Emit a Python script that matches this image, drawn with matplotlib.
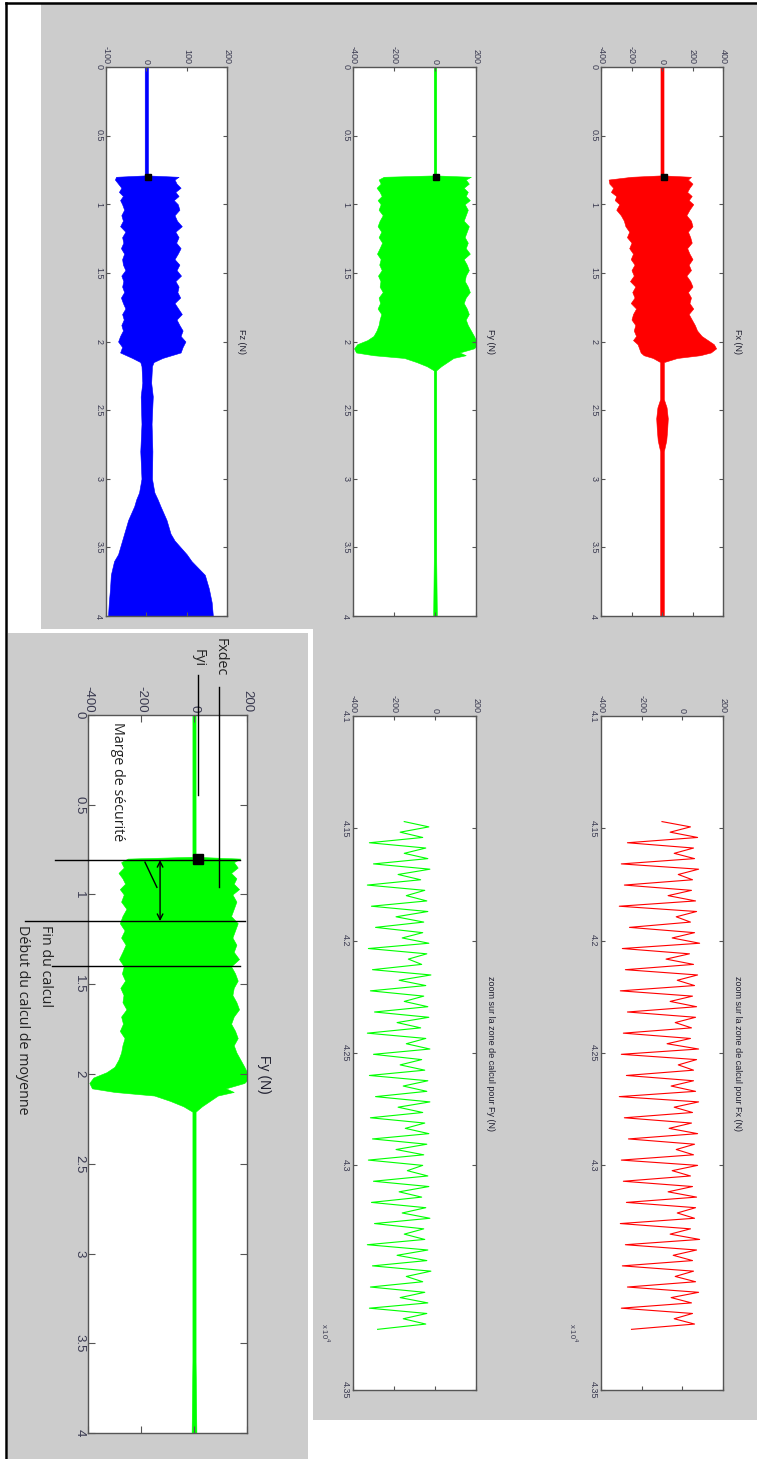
import matplotlib
matplotlib.use('Agg')
import matplotlib.pyplot as plt
import numpy as np
from matplotlib.patches import Rectangle
from matplotlib.lines import Line2D

# ---------------- data (time in units of 1e4 samples, force in N) ----------------
fx_t = [0, 0.79, 0.80, 0.82, 0.85, 0.88, 0.91, 0.94, 0.97, 1.00,
        1.04, 1.08, 1.12, 1.16, 1.20, 1.24, 1.28, 1.32, 1.36, 1.40, 1.44, 1.48,
        1.52, 1.56, 1.60, 1.64, 1.68, 1.72, 1.76, 1.80, 1.84, 1.88, 1.92, 1.96,
        1.99, 2.02, 2.05, 2.08, 2.10, 2.12, 2.15,
        2.42, 2.48, 2.56, 2.64, 2.72, 2.80, 4.0]
fx_lo = [-10, -10, -200, -350, -345, -320, -335, -300, -310, -280,
         -300, -270, -250, -240, -215, -230, -200, -215, -190, -205, -180, -200,
         -185, -210, -175, -195, -180, -205, -170, -190, -200, -175, -185, -170,
         -190, -160, -150, -140, -120, -60, -12,
         -12, -30, -38, -34, -28, -12, -12]
fx_hi = [10, 10, 190, 170, 200, 180, 165, 195, 175, 205,
         180, 160, 190, 200, 170, 185, 195, 165, 180, 200, 175, 190,
         160, 185, 200, 170, 190, 180, 205, 175, 195, 215, 230, 260,
         300, 340, 355, 320, 250, 100, 12,
         12, 30, 38, 34, 28, 12, 12]

fy_t = [0, 0.79, 0.80, 0.82, 0.85, 0.88, 0.91, 0.94, 0.97, 1.00,
        1.04, 1.08, 1.12, 1.16, 1.20, 1.24, 1.28, 1.32, 1.36, 1.40, 1.44, 1.48,
        1.52, 1.56, 1.60, 1.64, 1.68, 1.72, 1.76, 1.80, 1.84, 1.88, 1.92, 1.96,
        1.99, 2.02, 2.05, 2.08, 2.10, 2.12, 2.15, 2.18, 2.21, 3.6, 4.0]
fy_lo = [-6, -6, -250, -275, -265, -285, -270, -260, -280, -265,
         -275, -255, -270, -280, -262, -275, -258, -270, -283, -265, -272, -260,
         -278, -266, -270, -255, -275, -268, -280, -262, -270, -275, -285, -300,
         -330, -380, -395, -385, -300, -150, -90, -40, -6, -6, -9]
fy_hi = [6, 6, 175, 150, 165, 140, 160, 150, 170, 145,
         160, 150, 140, 165, 155, 145, 160, 150, 170, 140, 155, 165,
         150, 145, 160, 170, 150, 140, 155, 165, 150, 160, 175, 190,
         200, 210, 190, 120, 150, 90, 60, 30, 6, 6, 9]

fz_t = [0, 0.79, 0.80, 0.82, 0.85, 0.88, 0.91, 0.94, 0.97, 1.00,
        1.04, 1.08, 1.12, 1.16, 1.20, 1.24, 1.28, 1.32, 1.36, 1.40, 1.44, 1.48,
        1.52, 1.56, 1.60, 1.64, 1.68, 1.72, 1.76, 1.80, 1.84, 1.88, 1.92, 1.96,
        2.00, 2.04, 2.08, 2.12, 2.15, 2.18,
        2.30, 2.40, 2.60, 2.80, 3.00,
        3.10, 3.15, 3.20, 3.30, 3.40, 3.45, 3.55, 3.60, 3.70, 3.80, 3.90, 4.0]
fz_lo = [-4, -4, -75, -78, -70, -62, -68, -58, -65, -60,
         -55, -62, -58, -65, -52, -60, -57, -63, -55, -60, -58, -52,
         -62, -57, -60, -55, -63, -58, -52, -60, -56, -62, -58, -65,
         -70, -60, -65, -35, -15, -12,
         -10, -14, -12, -15, -12,
         -18, -25, -30, -45, -55, -60, -70, -80, -88, -90, -93, -95]
fz_hi = [4, 4, 80, 70, 75, 85, 72, 80, 68, 78,
         82, 70, 76, 88, 72, 80, 74, 85, 78, 70, 82, 75,
         86, 72, 80, 77, 84, 70, 79, 88, 75, 82, 90, 85,
         97, 90, 85, 40, 18, 14,
         12, 16, 13, 15, 14,
         20, 28, 35, 50, 60, 70, 100, 112, 145, 155, 162, 165]

# start-of-cutting markers (time, force)
start_t = 0.80
start_fx = 10
start_fy = 5
start_fz = 5

# zoom windows (time in 1e4 units)
zoom_t0, zoom_t1 = 4.147, 4.373
zoom_fx = [-100,
           40, -60, 75, -270, 55, -40, 60, -300, 80, -20, 50, -285,
           45, -70, 65, -310, 70, -30, 40, -260, 60, -50, 85, -295,
           35, -80, 55, -280, 75, -25, 60, -305, 50, -60, 70, -270,
           65, -35, 45, -290, 40, -75, 80, -300, 70, -20, 55, -275,
           55, -55, 65, -310, 80, -40, 50, -285, 45, -65, 75, -265,
           60, -30, 55, -300, 75, -50, 40, -290, 50, -70, 70, -275,
           65, -25, 60, -305, 40, -60, 85, -280, 70, -45, 50, -295,
           55, -35, 65, -270, 80, -55, 45, -300, 50, -40, 60, -250]
zoom_fy = [-150,
           -30, -170, -60, -320, -45, -150, -35, -300, -25, -180, -70, -330,
           -50, -140, -40, -310, -35, -190, -55, -290, -60, -160, -30, -325,
           -40, -130, -65, -305, -20, -175, -45, -315, -55, -150, -35, -295,
           -30, -185, -70, -330, -45, -140, -25, -300, -65, -170, -50, -320,
           -35, -155, -40, -290, -25, -180, -60, -315, -50, -145, -30, -305,
           -40, -190, -55, -325, -60, -135, -35, -300, -30, -175, -65, -310,
           -45, -160, -25, -295, -55, -150, -50, -330, -35, -185, -40, -305,
           -20, -140, -60, -315, -50, -170, -35, -320, -40, -155, -45, -280]

time_ticks = [0, 0.5, 1, 1.5, 2, 2.5, 3, 3.5, 4]
time_labels = ['0', '0.5', '1', '1.5', '2', '2.5', '3', '3.5', '4']
# tick labels as printed on the reference zoom axes (last label at the axis end)
zoom_ticks = [4.1, 4.15, 4.2, 4.25, 4.3, 4.4]
zoom_labels = ['4.1', '4.15', '4.2', '4.25', '4.3', '4.35']
zoom_lim = (4.1, 4.4)

# annotation times (bottom-left annotated figure)
marge_t0, marge_t1 = 0.808, 1.148
fin_t = 1.398

RED, GREEN, BLUE = '#ff0000', '#00ff00', '#0000ff'
GRAY = '#cccccc'
EDGE = '#555555'
TXT = '#3a3a50'

W, H = 757, 1459
fig = plt.figure(figsize=(W / 100, H / 100), dpi=100)
fig.patch.set_facecolor('white')


def fr(x0, y0, x1, y1):
    return [x0 / W, 1 - y1 / H, (x1 - x0) / W, (y1 - y0) / H]


for (x0, y0, x1, y1) in [(41, 4, 757, 629), (313, 629, 757, 1420), (8, 633, 308, 1459)]:
    b = fr(x0, y0, x1, y1)
    fig.add_artist(Rectangle((b[0], b[1]), b[2], b[3], transform=fig.transFigure,
                             fc=GRAY, ec='none', zorder=-5))
fig.add_artist(Line2D([6 / W, 6 / W], [0, 1 - 3 / H], transform=fig.transFigure,
                      color='black', lw=1.8, zorder=-4))
fig.add_artist(Line2D([6 / W, 1], [1 - 3 / H, 1 - 3 / H], transform=fig.transFigure,
                      color='black', lw=1.8, zorder=-4))

FONT = 'Liberation Sans'


def setup(ax, xlim, xticks, ylim, yticks, ylabels, fs, tl=3):
    ax.set_facecolor('white')
    ax.set_xlim(*xlim)
    ax.set_ylim(ylim[1], ylim[0])
    ax.set_xticks(xticks)
    ax.set_xticklabels([str(v) for v in xticks])
    ax.set_yticks(yticks)
    ax.set_yticklabels(ylabels)
    ax.xaxis.tick_top()
    ax.tick_params(axis='both', which='both', direction='in', top=True, bottom=True,
                   left=True, right=True, labeltop=True, labelbottom=False,
                   labelleft=True, labelright=False, length=tl, width=0.8,
                   color=EDGE, labelsize=fs, labelcolor=TXT, pad=2)
    ax.tick_params(axis='x', labelrotation=-90)
    ax.tick_params(axis='y', labelrotation=-90)
    for lab in ax.get_yticklabels():
        lab.set_va('center')
        lab.set_family(FONT)
    for lab in ax.get_xticklabels():
        lab.set_family(FONT)
    for s in ax.spines.values():
        s.set_color(EDGE)
        s.set_linewidth(1.0)


def title_right(ax, text, fs, off=0.08):
    ax.text(1 + off, 0.5, text, transform=ax.transAxes, rotation=-90, ha='left',
            va='center', fontsize=fs, color='#202030', family=FONT)


# ---- top panel: full signals ----
axA = fig.add_axes(fr(601, 67, 723, 616))
setup(axA, (-400, 400), [-400, -200, 0, 200, 400], (0, 4), time_ticks, time_labels, 6.5)
axA.fill_betweenx(fx_t, fx_lo, fx_hi, color=RED, lw=0.4)
axA.plot([start_fx], [start_t], 's', color='black', ms=4.5)
title_right(axA, 'Fx (N)', 6.5)

axB = fig.add_axes(fr(353, 67, 476, 616))
setup(axB, (-400, 200), [-400, -200, 0, 200], (0, 4), time_ticks, time_labels, 6.5)
axB.fill_betweenx(fy_t, fy_lo, fy_hi, color=GREEN, lw=0.4)
axB.plot([start_fy], [start_t], 's', color='black', ms=4.5)
title_right(axB, 'Fy (N)', 6.5)

axC = fig.add_axes(fr(106, 67, 227, 616))
setup(axC, (-100, 200), [-100, 0, 100, 200], (0, 4), time_ticks, time_labels, 6.5)
axC.fill_betweenx(fz_t, fz_lo, fz_hi, color=BLUE, lw=0.4)
axC.plot([start_fz], [start_t], 's', color='black', ms=4.5)
title_right(axC, 'Fz (N)', 6.5)

# ---- zoom panels ----
zt_fx = np.linspace(zoom_t0, zoom_t1, len(zoom_fx))
zt_fy = np.linspace(zoom_t0, zoom_t1, len(zoom_fy))

axD = fig.add_axes(fr(601, 716, 723, 1390))
setup(axD, (-400, 200), [-400, -200, 0, 200], zoom_lim, zoom_ticks, zoom_labels, 6.5)
axD.plot(zoom_fx, zt_fx, color=RED, lw=0.8)
title_right(axD, 'zoom sur la zone de calcul pour Fx (N)', 6.5)
axD.text(-0.23, 0.085, r'x 10$^4$', transform=axD.transAxes, rotation=-90, ha='center',
         va='center', fontsize=5.5, color=TXT, family=FONT)

axE = fig.add_axes(fr(353, 716, 476, 1390))
setup(axE, (-400, 200), [-400, -200, 0, 200], zoom_lim, zoom_ticks, zoom_labels, 6.5)
axE.plot(zoom_fy, zt_fy, color=GREEN, lw=0.8)
title_right(axE, 'zoom sur la zone de calcul pour Fy (N)', 6.5)
axE.text(-0.23, 0.085, r'x 10$^4$', transform=axE.transAxes, rotation=-90, ha='center',
         va='center', fontsize=5.5, color=TXT, family=FONT)

# ---- annotated Fy panel ----
axF = fig.add_axes(fr(88, 715, 247, 1433))
setup(axF, (-400, 200), [-400, -200, 0, 200], (0, 4), time_ticks, time_labels, 9.5, tl=5)
axF.fill_betweenx(fy_t, fy_lo, fy_hi, color=GREEN, lw=0.4)
axF.plot([15], [start_t], 's', color='black', ms=6.5, zorder=5)
axF.text(1.06, 0.5, 'Fy (N)', transform=axF.transAxes, rotation=-90, ha='left',
         va='center', fontsize=10, color='#202030', family=FONT)

ANN = 'Open Sans'
AFS = 10.3
kw = dict(color='black', lw=1.0, clip_on=False, zorder=6)
# Fxdec / Fyi pointers
axF.plot([95, 95], [-0.156, 0.958], **kw)
axF.plot([15, 15], [-0.223, 0.446], **kw)
axF.text(97, -0.43, 'Fxdec', rotation=-90, ha='center', va='top', fontsize=AFS,
         family=ANN, color='#222222', clip_on=False)
axF.text(15, -0.37, 'Fyi', rotation=-90, ha='center', va='top', fontsize=AFS,
         family=ANN, color='#222222', clip_on=False)
# horizontal markers
axF.plot([-524, 174], [marge_t0, marge_t0], **kw)
axF.plot([-638, 192], [marge_t1, marge_t1], **kw)
axF.plot([-536, 174], [fin_t, fin_t], **kw)
# double arrow (marge de securite)
axF.annotate('', xy=(-128, marge_t0), xytext=(-128, marge_t1),
             arrowprops=dict(arrowstyle='<->', color='black', lw=1.0,
                             shrinkA=0, shrinkB=0), annotation_clip=False, zorder=6)
axF.plot([-185, -140], [0.82, 0.96], **kw)
axF.text(-287, 0.04, 'Marge de sécurité', rotation=-90, ha='center', va='top',
         fontsize=AFS, family=ANN, color='#222222', clip_on=False)
axF.text(-562, 1.17, 'Fin du calcul', rotation=-90, ha='center', va='top',
         fontsize=AFS, family=ANN, color='#222222', clip_on=False)
axF.text(-649, 1.17, 'Début du calcul de moyenne', rotation=-90, ha='center', va='top',
         fontsize=AFS, family=ANN, color='#222222', clip_on=False)

fig.savefig('out.png', dpi=100)
